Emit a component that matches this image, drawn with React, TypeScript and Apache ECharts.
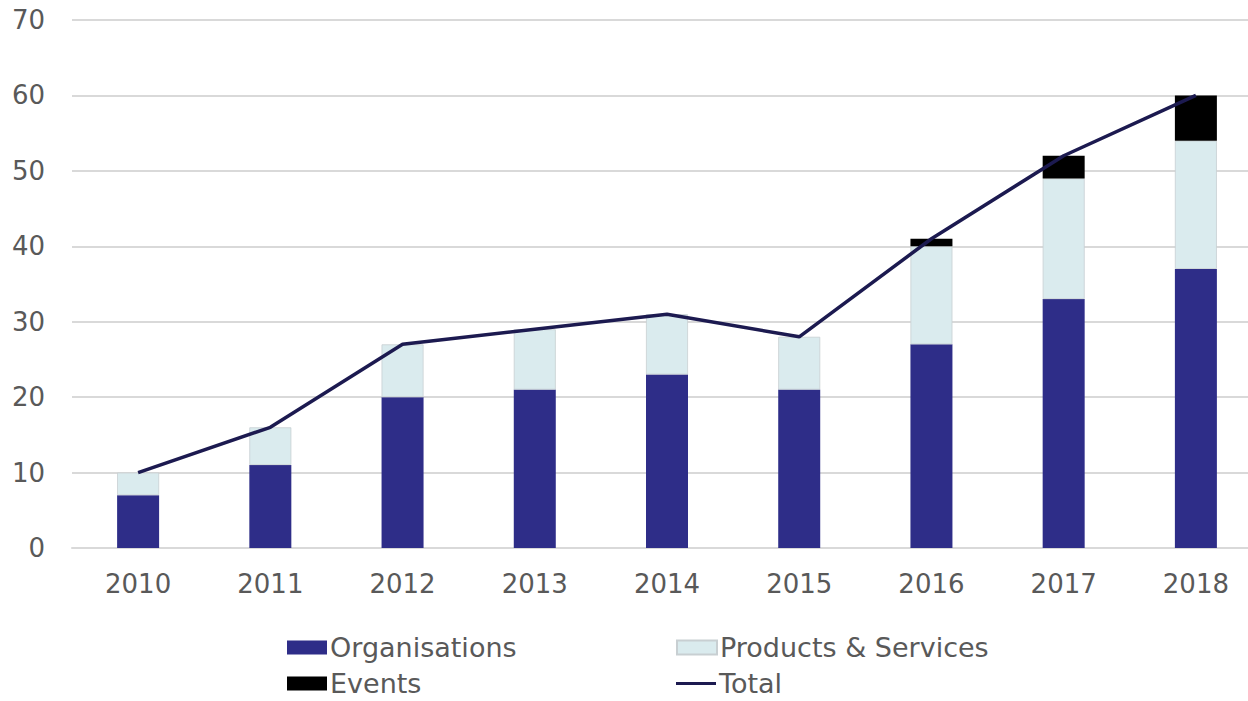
import React, { useEffect, useRef } from "react";
import * as echarts from "echarts";

const categories = ["2010", "2011", "2012", "2013", "2014", "2015", "2016", "2017", "2018"];
const organisations = [7, 11, 20, 21, 23, 21, 27, 33, 37];
const productsServices = [3, 5, 7, 8, 8, 7, 13, 16, 17];
const events = [0, 0, 0, 0, 0, 0, 1, 3, 6];
const total = [10, 16, 27, 29, 31, 28, 41, 52, 60];

const FONT = "DejaVu Sans";
const TEXT_COLOR = "#595959";

export default function App() {
  const ref = useRef<HTMLDivElement>(null);
  useEffect(() => {
    if (!ref.current) return;
    const chart = echarts.init(ref.current, null, { renderer: "svg" });
    const legendText = {
      fontFamily: FONT,
      fontSize: 27,
      lineHeight: 27,
      color: TEXT_COLOR,
      padding: [0, 0, 0, -2],
    };
    const mkLegend = (name: string, left: number, top: number, icon: string, h: number) => ({
      data: [{ name, icon }],
      left,
      top,
      itemWidth: 40,
      itemHeight: h,
      itemGap: 0,
      padding: 0,
      textStyle: legendText,
      selectedMode: false,
    });
    chart.setOption({
      animation: false,
      backgroundColor: "#ffffff",
      grid: { left: 72, top: 20, width: 1190, height: 528, outerBoundsMode: "none", containLabel: false },
      legend: [
        mkLegend("Organisations", 287, 634, "rect", 14),
        mkLegend("Products & Services", 676, 634, "rect", 14),
        mkLegend("Events", 287, 670, "rect", 14),
        mkLegend("Total", 676, 670, "rect", 3),
      ],
      xAxis: {
        type: "category",
        data: categories,
        axisTick: { show: false },
        axisLine: { lineStyle: { color: "#D9D9D9", width: 2 } },
        axisLabel: { fontFamily: FONT, fontSize: 26, color: TEXT_COLOR, margin: 23 },
      },
      yAxis: {
        type: "value",
        min: 0,
        max: 70,
        interval: 10,
        axisLine: { show: false },
        axisTick: { show: false },
        splitLine: { lineStyle: { color: "#D9D9D9", width: 2 } },
        axisLabel: { fontFamily: FONT, fontSize: 26, color: TEXT_COLOR, margin: 27 },
      },
      series: [
        {
          name: "Organisations",
          type: "bar",
          stack: "s",
          data: organisations,
          barWidth: 42,
          itemStyle: { color: "#2E2D88" },
        },
        {
          name: "Products & Services",
          type: "bar",
          stack: "s",
          data: productsServices,
          barWidth: 42,
          itemStyle: { color: "#DAEBEE", borderColor: "#C8CFD2", borderWidth: 0.8 },
        },
        {
          name: "Events",
          type: "bar",
          stack: "s",
          data: events,
          barWidth: 42,
          itemStyle: { color: "#000000" },
        },
        {
          name: "Total",
          type: "line",
          data: total,
          symbol: "none",
          lineStyle: { color: "#1C1A50", width: 3.5 },
          itemStyle: { color: "#1C1A50" },
        },
      ],
    });
    return () => chart.dispose();
  }, []);
  return (
    <div
      ref={ref}
      style={{ position: "fixed", left: 0, top: 0, width: 1248, height: 701, background: "#fff" }}
    />
  );
}
